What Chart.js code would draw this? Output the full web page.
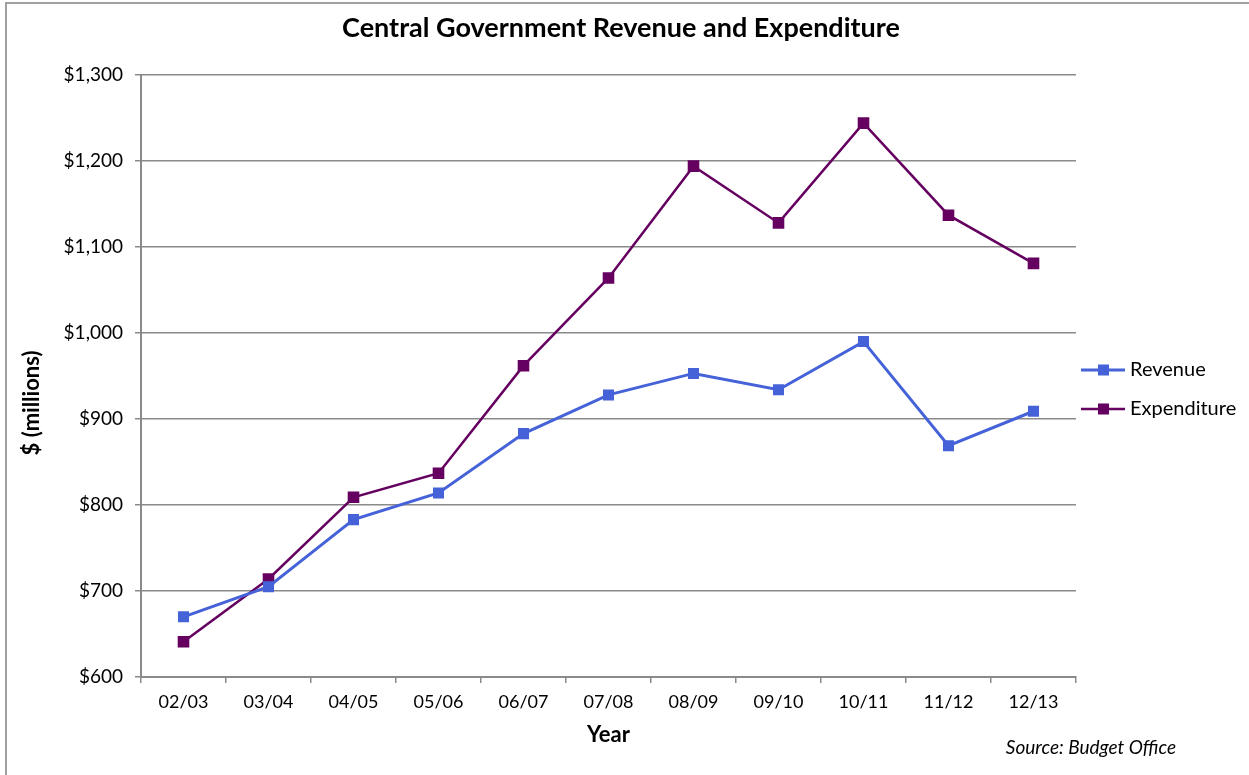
<!DOCTYPE html>
<html>
<head>
<meta charset="utf-8">
<script src="https://cdn.jsdelivr.net/npm/chart.js@4.4.1/dist/chart.umd.min.js"></script>
<style>
  html, body { margin: 0; padding: 0; background: #fff; }
  #wrap { position: relative; width: 1249px; height: 775px; }
</style>
</head>
<body>
<div id="wrap"><canvas id="chart" width="1249" height="775"></canvas></div>
<script>
// data
const years = ["02/03", "03/04", "04/05", "05/06", "06/07", "07/08", "08/09", "09/10", "10/11", "11/12", "12/13"];
const revenue = [670, 705, 783, 814, 883, 928, 953, 934, 990, 869, 909];
const expenditure = [641, 714, 809, 837, 962, 1064, 1194, 1128, 1244, 1137, 1081];
const yTicks = [600, 700, 800, 900, 1000, 1100, 1200, 1300];

const FONT = "Lato, 'Open Sans', sans-serif";
const GRID = "#8a8a8a";
const BLUE = "#4562D8";
const PURPLE = "#650060";

// texte et decor autour du graphique
const decor = {
  id: "decor",
  afterDraw(chart) {
    const ctx = chart.ctx;
    const area = chart.chartArea;
    ctx.save();
    // cadre exterieur
    ctx.strokeStyle = "#a0a0a0";
    ctx.lineWidth = 2;
    ctx.beginPath();
    ctx.moveTo(6, 790);
    ctx.lineTo(6, 3);
    ctx.lineTo(1260, 3);
    ctx.stroke();

    ctx.fillStyle = "#000";
    ctx.textAlign = "center";
    ctx.textBaseline = "middle";
    ctx.font = "bold 27px " + FONT;
    ctx.fillText("Central Government Revenue and Expenditure", 621, 28);

    ctx.font = "bold 22px " + FONT;
    ctx.fillText("Year", (area.left + area.right) / 2, 735);

    ctx.save();
    ctx.translate(32, 403);
    ctx.rotate(-Math.PI / 2);
    ctx.fillText("$ (millions)", 0, 0);
    ctx.restore();

    ctx.font = "italic 19px " + FONT;
    ctx.textAlign = "right";
    ctx.fillText("Source: Budget Office", 1176, 748);

    // legende
    const items = [["Revenue", BLUE, 3, 370], ["Expenditure", PURPLE, 2.5, 409]];
    ctx.font = "20px " + FONT;
    ctx.textAlign = "left";
    items.forEach(([label, color, w, y]) => {
      ctx.strokeStyle = color;
      ctx.lineWidth = w;
      ctx.beginPath();
      ctx.moveTo(1081, y);
      ctx.lineTo(1125, y);
      ctx.stroke();
      ctx.fillStyle = color;
      ctx.fillRect(1098, y - 5.5, 11, 11);
      ctx.fillStyle = "#000";
      ctx.fillText(label, 1130, y);
    });
    ctx.restore();
  }
};

new Chart(document.getElementById("chart"), {
  type: "line",
  data: {
    labels: years,
    datasets: [
      {
        label: "Revenue",
        data: revenue,
        borderColor: BLUE,
        backgroundColor: BLUE,
        borderWidth: 3,
        pointStyle: "rect",
        pointRadius: 7.8,
        pointBorderWidth: 0,
        tension: 0
      },
      {
        label: "Expenditure",
        data: expenditure,
        borderColor: PURPLE,
        backgroundColor: PURPLE,
        borderWidth: 2.5,
        pointStyle: "rect",
        pointRadius: 8.2,
        pointBorderWidth: 0,
        tension: 0
      }
    ]
  },
  options: {
    responsive: false,
    animation: false,
    layout: { padding: { left: 0, top: 75, right: 173, bottom: 0 } },
    plugins: {
      legend: { display: false },
      title: { display: false },
      tooltip: { enabled: false }
    },
    scales: {
      x: {
        offset: true,
        afterFit: (scale) => { scale.height = 98; },
        grid: {
          offset: true,
          drawOnChartArea: false,
          drawTicks: true,
          tickLength: 6,
          color: GRID,
          lineWidth: 1.5
        },
        border: { color: GRID, width: 2 },
        ticks: {
          color: "#000",
          padding: 8,
          font: { family: FONT, size: 18 }
        }
      },
      y: {
        min: 600,
        max: 1300,
        afterFit: (scale) => { scale.width = 141; },
        afterBuildTicks: (scale) => {
          scale.ticks = yTicks.map((v) => ({ value: v }));
        },
        grid: {
          color: GRID,
          lineWidth: 1.5,
          drawTicks: true,
          tickLength: 6
        },
        border: { color: GRID, width: 2 },
        ticks: {
          color: "#000",
          padding: 12,
          font: { family: FONT, size: 19 },
          callback: (v) => "$" + v.toLocaleString("en-US")
        }
      }
    }
  },
  plugins: [decor]
});
</script>
</body>
</html>
